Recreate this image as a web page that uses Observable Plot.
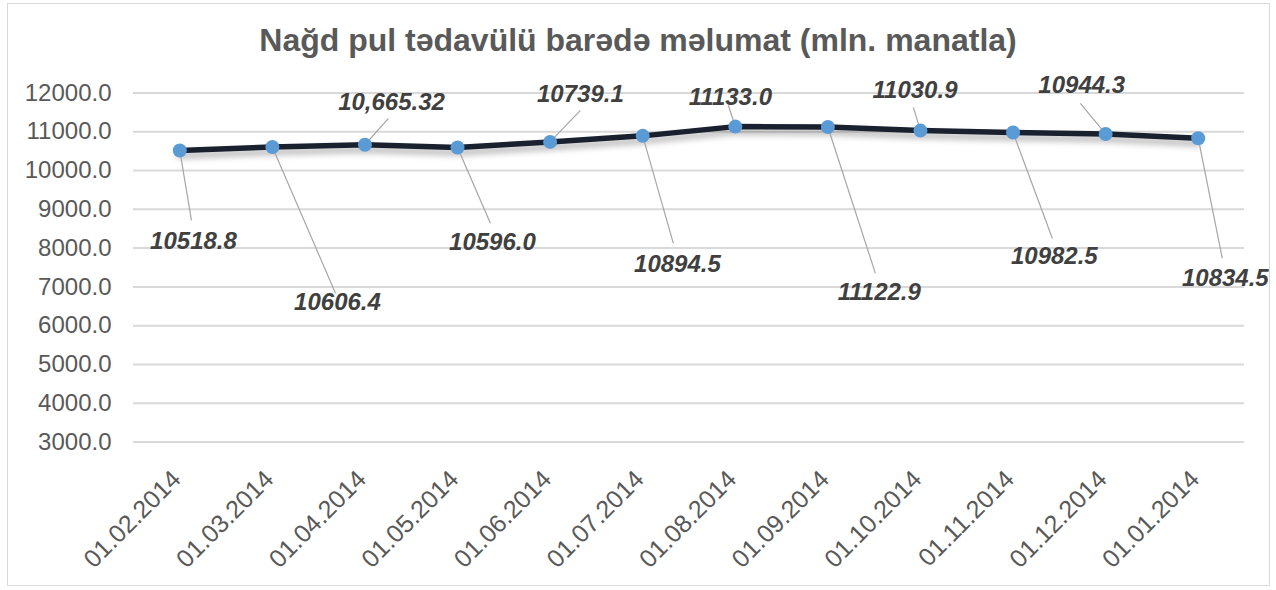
<!DOCTYPE html>
<html>
<head>
<meta charset="utf-8">
<script src="https://cdn.jsdelivr.net/npm/d3@7"></script>
<script src="https://cdn.jsdelivr.net/npm/@observablehq/plot@0.6"></script>
<style>
  html, body { margin: 0; padding: 0; background: #fff; }
  #wrap { position: relative; width: 1276px; height: 590px; overflow: hidden; font-family: "Liberation Sans", Arial, sans-serif; }
  #frame { position: absolute; left: 7px; top: 3px; width: 1261px; height: 581px; border: 1.5px solid #d9d9d9; pointer-events: none; }
  #title { height: 44px; padding-top: 22px; text-align: center; font-size: 32px; font-weight: bold; color: #595959; line-height: normal; white-space: nowrap; box-sizing: content-box; }
  #chart svg { display: block; }
</style>
</head>
<body>
<div id="wrap">
  <div id="title">Nağd pul tədavülü barədə məlumat (mln. manatla)</div>
  <div id="chart"></div>
  <div id="frame"></div>
</div>
<script>
// ---- data ----
const dates = ["01.02.2014","01.03.2014","01.04.2014","01.05.2014","01.06.2014","01.07.2014",
               "01.08.2014","01.09.2014","01.10.2014","01.11.2014","01.12.2014","01.01.2014"];
const values = [10518.8, 10606.4, 10665.32, 10596.0, 10739.1, 10894.5,
                11133.0, 11122.9, 11030.9, 10982.5, 10944.3, 10834.5];
const valueLabels = ["10518.8","10606.4","10,665.32","10596.0","10739.1","10894.5",
                     "11133.0","11122.9","11030.9","10982.5","10944.3","10834.5"];
const yTicks = [3000, 4000, 5000, 6000, 7000, 8000, 9000, 10000, 11000, 12000];

// ---- annotation layout (label anchor in data space: [x index, y value]) ----
const labelAt = [[0.148, 8175],[1.703, 6602],[2.287, 11760],[3.377, 8150],[4.327, 11979],[5.375, 7595],
                 [5.947, 11876],[7.555, 6873],[7.941, 12070],[9.446, 7776],[9.742, 12199],[11.293, 7234]];
const leaderEnd = [[0.126, 8717],[1.682, 6834],[2.254, 11347],[3.355, 8640],[4.327, 11554],[5.331, 8124],
                   [5.925, 11683],[7.513, 7350],[7.923, 11631],[9.424, 8253],[9.727, 11734],[11.26, 7737]];

const rows = values.map((v, i) => ({
  i, date: dates[i], value: v, label: valueLabels[i],
  lx: labelAt[i][0], ly: labelAt[i][1],
  ex: leaderEnd[i][0], ey: leaderEnd[i][1]
}));

const font = "'Liberation Sans', Arial, sans-serif";

const plot = Plot.plot({
  width: 1276,
  height: 524,
  marginLeft: 133,
  marginRight: 32,
  marginTop: 26.5,
  marginBottom: 148.5,
  style: { fontFamily: font, color: "#595959", background: "transparent", overflow: "visible" },
  x: { domain: [-0.5, 11.5], axis: null },
  y: { domain: [3000, 12000], axis: null },
  marks: [
    Plot.ruleY(yTicks, { stroke: "#d9d9d9", strokeWidth: 2 }),
    Plot.text(yTicks, { y: d => d, frameAnchor: "left", text: d => d.toFixed(1), textAnchor: "end", dx: -22, fontSize: 24, fill: "#595959" }),
    Plot.text(dates, { x: (d, i) => i, frameAnchor: "bottom", text: d => d, rotate: -45, textAnchor: "end", lineAnchor: "middle", dx: -3, dy: 33, fontSize: 25, fill: "#595959" }),
    Plot.line(rows, { x: "i", y: "value", stroke: "#19202e", strokeWidth: 5.5, strokeLinejoin: "round", className: "shadowed" }),
    Plot.link(rows, { x1: "i", y1: "value", x2: "ex", y2: "ey", stroke: "#a6a6a6", strokeWidth: 1.2 }),
    Plot.dot(rows, { x: "i", y: "value", r: 7, fill: "#5b9bd5", stroke: "none" }),
    Plot.text(rows, { x: "lx", y: "ly", text: "label", fontSize: 24, fontWeight: "bold", fontStyle: "italic", fill: "#404040", lineAnchor: "middle" })
  ]
});
document.getElementById("chart").appendChild(plot);
d3.select(plot).selectAll(".shadowed").style("filter", "drop-shadow(0px 5px 3px rgba(0,0,0,0.3))");
</script>
</body>
</html>
